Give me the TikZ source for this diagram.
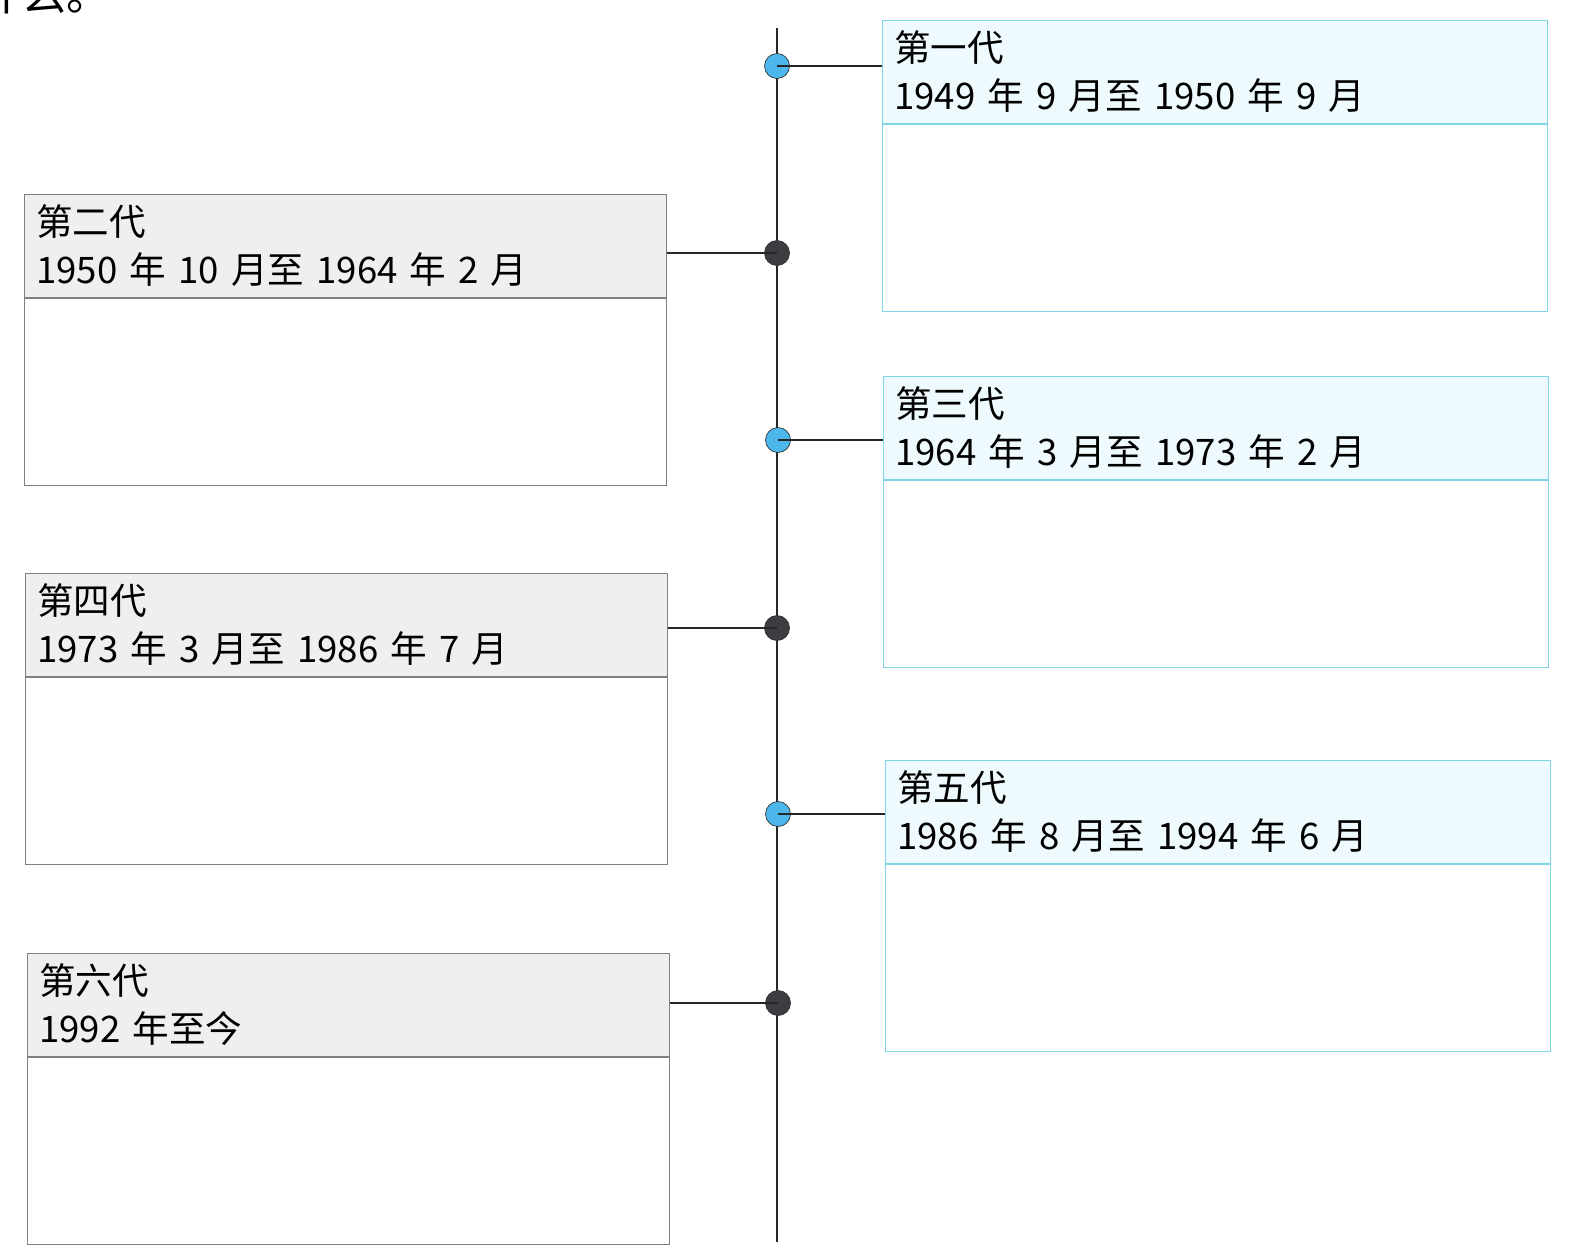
\documentclass[tikz,border=0pt]{standalone}
\usepackage{fontspec}
\setmainfont{Noto Sans CJK SC}
\usetikzlibrary{positioning}
\definecolor{dotblue}{HTML}{4DB6EA}
\definecolor{dotgrey}{HTML}{3E3C40}
\definecolor{edgecyan}{HTML}{7FD4E8}
\definecolor{tintcyan}{HTML}{EEFAFD}
\definecolor{edgegrey}{HTML}{808080}
\definecolor{tintgrey}{HTML}{EFEFEF}

\tikzset{
  headright/.style={draw=edgecyan, fill=tintcyan, anchor=north west, inner xsep=0.24cm,
    text width=12.82cm, minimum height=2.06cm, align=left, font=\fontsize{20.8pt}{27.5pt}\selectfont},
  bodyright/.style={draw=edgecyan, fill=white, minimum width=13.3cm, minimum height=3.74cm},
  headleft/.style={draw=edgegrey, fill=tintgrey, anchor=north west, inner xsep=0.24cm,
    text width=12.36cm, minimum height=2.06cm, align=left, font=\fontsize{20.8pt}{27.5pt}\selectfont},
  bodyleft/.style={draw=edgegrey, fill=white, minimum width=12.84cm, minimum height=3.74cm},
  dotcyan/.style={circle, draw=black!80, fill=dotblue, minimum size=0.5cm, inner sep=0},
  dotdark/.style={circle, draw=black!80, fill=dotgrey, minimum size=0.5cm, inner sep=0},
}

\begin{document}
\begin{tikzpicture}
    \useasboundingbox (0,0) rectangle (31.66,-25.02);

    % Text cut off at the top of the page
    \node[anchor=base west, inner sep=0, font=\fontsize{25pt}{30pt}\selectfont] (cut) at (-0.44,-0.2) {什么。};

    % Draw the time line
    \draw[black!85, line width=0.8pt] (15.54,-0.56) coordinate (top) -- (15.54,-24.84) coordinate (bottom);

    % Add the boxes on the right
    \node[headright] (h1) at (17.64,-0.40) {第一代\\1949 年 9 月至 1950 年 9 月};
    \node[bodyright, below=0pt of h1] (b1) {};
    \node[headright] (h3) at (17.66,-7.52) {第三代\\1964 年 3 月至 1973 年 2 月};
    \node[bodyright, below=0pt of h3] (b3) {};
    \node[headright] (h5) at (17.70,-15.20) {第五代\\1986 年 8 月至 1994 年 6 月};
    \node[bodyright, below=0pt of h5] (b5) {};

    % Add the boxes on the left
    \node[headleft] (h2) at (0.48,-3.88) {第二代\\1950 年 10 月至 1964 年 2 月};
    \node[bodyleft, below=0pt of h2] (b2) {};
    \node[headleft] (h4) at (0.50,-11.46) {第四代\\1973 年 3 月至 1986 年 7 月};
    \node[bodyleft, below=0pt of h4] (b4) {};
    \node[headleft] (h6) at (0.54,-19.06) {第六代\\1992 年至今};
    \node[bodyleft, below=0pt of h6] (b6) {};

    % Draw the dots and link them to the boxes
    \node[dotcyan] (d1) at (15.54,-1.32) {};
    \node[dotdark] (d2) at (15.54,-5.06) {};
    \node[dotcyan] (d3) at (15.56,-8.80) {};
    \node[dotdark] (d4) at (15.54,-12.56) {};
    \node[dotcyan] (d5) at (15.56,-16.28) {};
    \node[dotdark] (d6) at (15.56,-20.06) {};

    \draw[black!85, line width=0.8pt] (d1.center) -- (d1 -| h1.west);
    \draw[black!85, line width=0.8pt] (d3.center) -- (d3 -| h3.west);
    \draw[black!85, line width=0.8pt] (d5.center) -- (d5 -| h5.west);
    \draw[black!85, line width=0.8pt] (d2.center) -- (d2 -| h2.east);
    \draw[black!85, line width=0.8pt] (d4.center) -- (d4 -| h4.east);
    \draw[black!85, line width=0.8pt] (d6.center) -- (d6 -| h6.east);
\end{tikzpicture}
\end{document}
